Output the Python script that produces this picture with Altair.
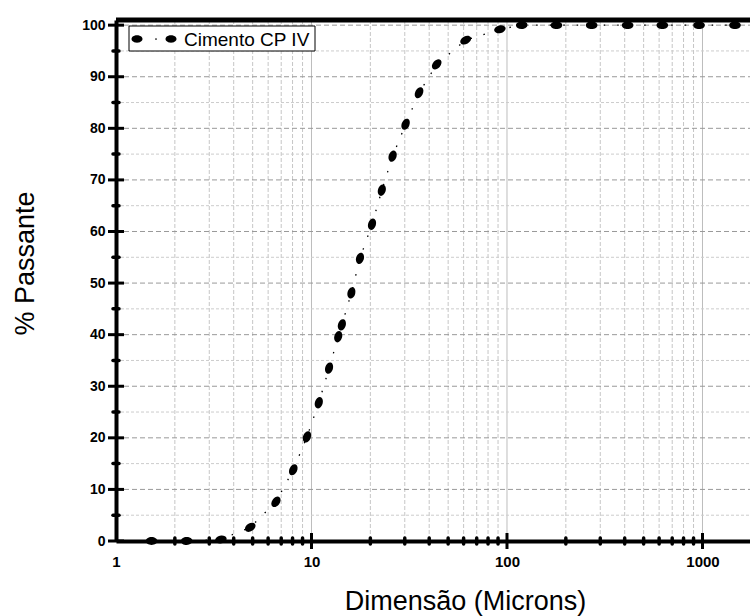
import altair as alt
import pandas as pd
import numpy as np

# ---- data ----
diam = [1.52, 2.30, 3.44, 4.86, 6.58, 8.07, 9.48, 10.9, 12.3, 13.7, 14.3, 16.0,
        17.7, 20.4, 22.9, 26.0, 30.3, 35.5, 43.7, 61.5, 92.0, 119, 179, 271,
        414, 623, 960, 1466]
passing = [0, 0, 0.3, 2.65, 7.6, 13.8, 20.2, 26.8, 33.5, 39.6, 41.9, 48.1,
           54.8, 61.4, 68.0, 74.6, 80.8, 86.9, 92.4, 97.1, 99.2, 100, 100, 100,
           100, 100, 100, 100]
series_name = "Cimento CP IV"
x_major = [10, 100, 1000]
x_minor = [2, 3, 4, 5, 6, 7, 8, 9, 20, 30, 40, 50, 60, 70, 80, 90,
           200, 300, 400, 500, 600, 700, 800, 900]
x_labels = [1, 10, 100, 1000]
y_major = [0, 10, 20, 30, 40, 50, 60, 70, 80, 90, 100]
y_minor = [5, 15, 25, 35, 45, 55, 65, 75, 85, 95]

W, H = 634, 521
X_DOMAIN = [1, 1750]
Y_DOMAIN = [0, 101]

# marker orientation along the curve (pixel space)
px_dec = W / np.log10(X_DOMAIN[1])
px_unit = H / Y_DOMAIN[1]
lx = np.log10(np.array(diam)) * px_dec
py = np.array(passing) * px_unit
n = len(diam)
angles = []
for i in range(n):
    i0, i1 = max(i - 1, 0), min(i + 1, n - 1)
    a = np.degrees(np.arctan2(-(py[i1] - py[i0]), lx[i1] - lx[i0])) % 360
    angles.append(float(a))

df = pd.DataFrame({"d": diam, "p": passing, "ang": angles})

ELLIPSE = ("M -1 0 C -1 -0.37 -0.55 -0.67 0 -0.67 C 0.55 -0.67 1 -0.37 1 0 "
           "C 1 0.37 0.55 0.67 0 0.67 C -0.55 0.67 -1 0.37 -1 0 Z")

FONT = "Liberation Sans"
xs = alt.Scale(type="log", domain=X_DOMAIN, nice=False)
ys = alt.Scale(domain=Y_DOMAIN, nice=False, zero=False)

x_axis = alt.Axis(values=x_labels, format="d", ticks=False, grid=False,
                  domainWidth=4, domainColor="black",
                  labelFont=FONT, labelFontWeight="bold", labelFontSize=15,
                  labelColor="black", labelPadding=13, labelFlush=False,
                  titleFont=FONT, titleFontSize=27, titleFontWeight="normal",
                  titleColor="black", titleX=349, titleY=68,
                  titleBaseline="alphabetic", titleAlign="center")
y_axis = alt.Axis(values=y_major, ticks=False, grid=False,
                  domainWidth=4, domainColor="black",
                  labelFont=FONT, labelFontWeight="bold", labelFontSize=14,
                  labelColor="black", labelPadding=11,
                  titleFont=FONT, titleFontSize=27, titleFontWeight="normal",
                  titleColor="black", titleX=-83, titleY=243, titleAngle=270,
                  titleBaseline="alphabetic", titleAlign="center")

XT = "Dimensão (Microns)"
YT = "% Passante"


def X(f):
    return alt.X(f, type="quantitative", scale=xs, axis=x_axis, title=XT)


def Y(f):
    return alt.Y(f, type="quantitative", scale=ys, axis=y_axis, title=YT)


one = pd.DataFrame({"k": [0]})

vgrid_minor = alt.Chart(pd.DataFrame({"v": x_minor})).mark_rule(
    color="#c6c6c6", strokeWidth=1, strokeDash=[4, 2]
).encode(x=X("v"), y=alt.value(0), y2=alt.value(H))

vgrid_major = alt.Chart(pd.DataFrame({"v": x_major})).mark_rule(
    color="#bdbdbd", strokeWidth=1
).encode(x=X("v"), y=alt.value(0), y2=alt.value(H))

hgrid_minor = alt.Chart(pd.DataFrame({"v": y_minor})).mark_rule(
    color="#cccccc", strokeWidth=1, strokeDash=[3, 2]
).encode(y=Y("v"), x=alt.value(0), x2=alt.value(W))

hgrid_major = alt.Chart(pd.DataFrame({"v": y_major[1:]})).mark_rule(
    color="#999999", strokeWidth=1, strokeDash=[5, 3]
).encode(y=Y("v"), x=alt.value(0), x2=alt.value(W))

line = alt.Chart(df).mark_line(
    color="black", strokeWidth=1.3, strokeDash=[1.5, 12]
).encode(x=X("d"), y=Y("p"), order="d:Q")

points = alt.Chart(df).mark_point(
    shape=ELLIPSE, filled=True, color="black", size=135, opacity=1
).encode(x=X("d"), y=Y("p"), angle=alt.Angle("ang:Q", scale=None))

# axis ticks crossing the axis lines
yt_major = alt.Chart(pd.DataFrame({"v": y_major})).mark_rule(
    color="black", strokeWidth=3
).encode(y=Y("v"), x=alt.value(-8), x2=alt.value(8))
yt_minor = alt.Chart(pd.DataFrame({"v": y_minor})).mark_rule(
    color="black", strokeWidth=3.5, strokeCap="round"
).encode(y=Y("v"), x=alt.value(-3), x2=alt.value(3))
xt_major = alt.Chart(pd.DataFrame({"v": x_major})).mark_rule(
    color="black", strokeWidth=3
).encode(x=X("v"), y=alt.value(H - 8), y2=alt.value(H + 8))
xt_minor = alt.Chart(pd.DataFrame({"v": x_minor})).mark_rule(
    color="black", strokeWidth=3.5, strokeCap="round"
).encode(x=X("v"), y=alt.value(H - 3), y2=alt.value(H + 3))

top_border = alt.Chart(one).mark_rule(color="black", strokeWidth=5).encode(
    x=alt.value(0), x2=alt.value(W), y=alt.value(0))

# legend box
leg_box = alt.Chart(one).mark_rect(
    fill="white", stroke="black", strokeWidth=1
).encode(x=alt.value(13), x2=alt.value(199), y=alt.value(6), y2=alt.value(31))
leg_sym = alt.Chart(pd.DataFrame({"sx": [21, 55]})).mark_point(
    shape=ELLIPSE, filled=True, color="black", size=120, opacity=1
).encode(x=alt.X("sx:Q", scale=None, axis=None), y=alt.value(19))
leg_dot = alt.Chart(one).mark_point(
    shape="circle", filled=True, color="black", size=3, opacity=1
).encode(x=alt.value(40), y=alt.value(19))
leg_text = alt.Chart(one).mark_text(
    text=series_name, font=FONT, fontSize=19, align="left",
    baseline="middle", color="black"
).encode(x=alt.value(68), y=alt.value(19.5))

chart = alt.layer(
    vgrid_minor, vgrid_major, hgrid_minor, hgrid_major,
    line, points,
    yt_major, yt_minor, xt_major, xt_minor, top_border,
    leg_box, leg_sym, leg_dot, leg_text,
).properties(
    width=W, height=H,
    autosize=alt.AutoSizeParams(type="none"),
    padding={"left": 116, "top": 20, "right": 0, "bottom": 75},
    background="white",
).configure_view(stroke=None)

chart.save("out.html", embed_options={"renderer": "svg", "actions": False})
